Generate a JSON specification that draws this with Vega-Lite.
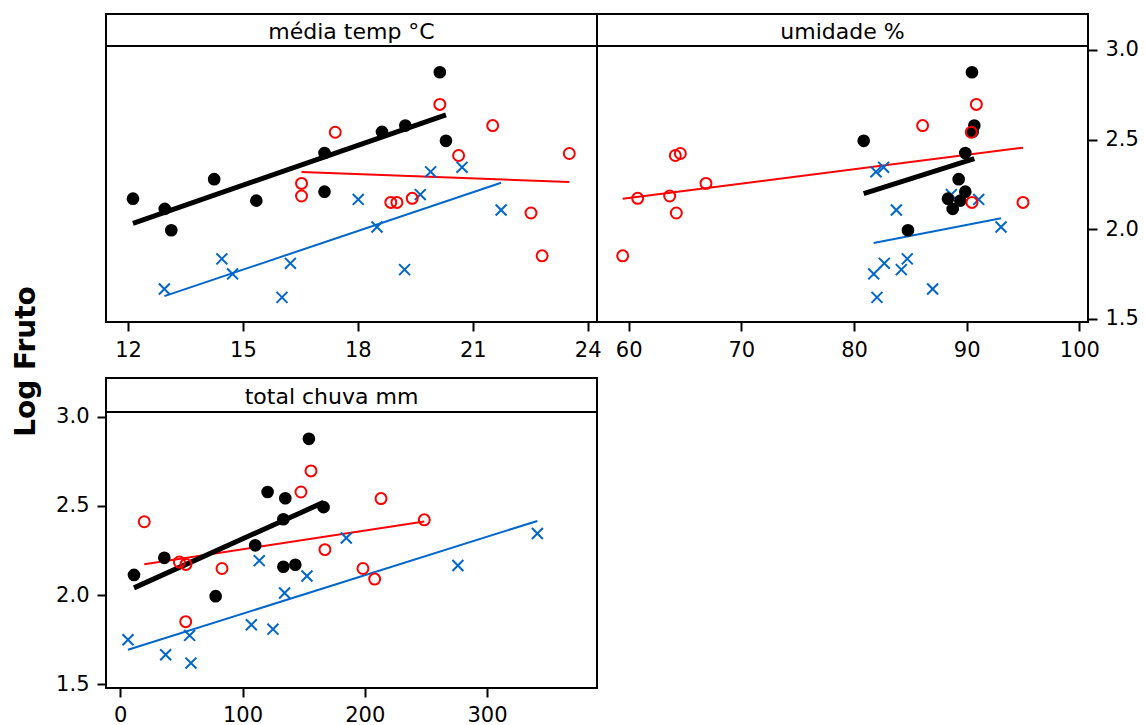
{
  "$schema": "https://vega.github.io/schema/vega-lite/v6.json",
  "background": "white",
  "padding": {"left": 10, "top": 13, "right": 2, "bottom": 0},
  "config": {
    "font": "DejaVu Sans",
    "view": {"stroke": "black", "strokeWidth": 2},
    "axis": {"grid": false, "domain": false, "tickColor": "black", "tickWidth": 2, "tickSize": 9, "labelColor": "black", "labelFont": "DejaVu Sans", "labelFontSize": 21, "labelFlush": false, "labelOverlap": false}
  },
  "datasets": {
    "pts": [
      {"g": "A", "temp": 12.13, "umid": 88.34, "chuva": 143.2, "log": 2.170},
      {"g": "A", "temp": 12.96, "umid": 88.76, "chuva": 11.2, "log": 2.113},
      {"g": "A", "temp": 13.13, "umid": 84.79, "chuva": 78.0, "log": 1.994},
      {"g": "A", "temp": 14.25, "umid": 89.29, "chuva": 110.4, "log": 2.279},
      {"g": "A", "temp": 15.35, "umid": 89.44, "chuva": 133.4, "log": 2.159},
      {"g": "A", "temp": 17.13, "umid": 89.88, "chuva": 133.4, "log": 2.425},
      {"g": "A", "temp": 17.13, "umid": 89.88, "chuva": 36.0, "log": 2.209},
      {"g": "A", "temp": 18.63, "umid": 90.53, "chuva": 135.0, "log": 2.543},
      {"g": "A", "temp": 19.24, "umid": 90.68, "chuva": 120.5, "log": 2.578},
      {"g": "A", "temp": 20.14, "umid": 90.47, "chuva": 154.3, "log": 2.876},
      {"g": "A", "temp": 20.30, "umid": 80.86, "chuva": 166.3, "log": 2.493},
      {"g": "B", "temp": 20.14, "umid": 90.86, "chuva": 156.0, "log": 2.696},
      {"g": "B", "temp": 21.52, "umid": 86.09, "chuva": 147.8, "log": 2.578},
      {"g": "B", "temp": 17.41, "umid": 90.41, "chuva": 213.3, "log": 2.541},
      {"g": "B", "temp": 23.52, "umid": 64.59, "chuva": 248.7, "log": 2.422},
      {"g": "B", "temp": 20.63, "umid": 64.14, "chuva": 19.6, "log": 2.411},
      {"g": "B", "temp": 16.53, "umid": 66.86, "chuva": 167.4, "log": 2.255},
      {"g": "B", "temp": 16.53, "umid": 63.64, "chuva": 48.3, "log": 2.185},
      {"g": "B", "temp": 19.42, "umid": 60.80, "chuva": 53.7, "log": 2.172},
      {"g": "B", "temp": 18.86, "umid": 90.47, "chuva": 83.2, "log": 2.149},
      {"g": "B", "temp": 19.02, "umid": 95.0, "chuva": 198.5, "log": 2.149},
      {"g": "B", "temp": 22.52, "umid": 64.23, "chuva": 208.1, "log": 2.090},
      {"g": "B", "temp": 22.81, "umid": 59.47, "chuva": 53.5, "log": 1.851},
      {"g": "C", "temp": 12.95, "umid": 86.98, "chuva": 37.1, "log": 1.666},
      {"g": "C", "temp": 14.45, "umid": 84.73, "chuva": 107.2, "log": 1.834},
      {"g": "C", "temp": 14.73, "umid": 81.75, "chuva": 6.3, "log": 1.750},
      {"g": "C", "temp": 16.02, "umid": 82.04, "chuva": 57.8, "log": 1.619},
      {"g": "C", "temp": 16.24, "umid": 82.69, "chuva": 124.9, "log": 1.809},
      {"g": "C", "temp": 18.01, "umid": 91.07, "chuva": 276.2, "log": 2.166},
      {"g": "C", "temp": 18.50, "umid": 93.05, "chuva": 134.4, "log": 2.012},
      {"g": "C", "temp": 19.22, "umid": 84.20, "chuva": 56.7, "log": 1.774},
      {"g": "C", "temp": 19.63, "umid": 88.64, "chuva": 113.7, "log": 2.193},
      {"g": "C", "temp": 19.90, "umid": 81.95, "chuva": 184.9, "log": 2.320},
      {"g": "C", "temp": 20.72, "umid": 82.63, "chuva": 341.2, "log": 2.345},
      {"g": "C", "temp": 21.74, "umid": 83.76, "chuva": 152.7, "log": 2.107}
    ]
  },
  "concat": [
    {"width": 491, "height": 32, "view": {"stroke": "black", "strokeWidth": 2}, "data": {"values": [{"t": "média temp °C"}]}, "mark": {"type": "text", "font": "DejaVu Sans", "fontSize": 22, "color": "black", "dy": 2}, "encoding": {"text": {"field": "t"}}},
    {"width": 491, "height": 32, "view": {"stroke": "black", "strokeWidth": 2}, "data": {"values": [{"t": "umidade %"}]}, "mark": {"type": "text", "font": "DejaVu Sans", "fontSize": 22, "color": "black", "dy": 2}, "encoding": {"text": {"field": "t"}}},
    {
      "width": 491, "height": 276,
      "data": {"name": "pts"},
      "encoding": {
        "x": {"field": "temp", "type": "quantitative", "scale": {"domain": [11.426, 24.243], "nice": false, "zero": false}, "axis": {"values": [12, 15, 18, 21, 24], "title": null, "labelPadding": 8}},
        "y": {"field": "log", "type": "quantitative", "scale": {"domain": [1.4816, 3.0223], "nice": false, "zero": false}, "axis": null}
      },
      "layer": [
        {"transform": [{"filter": "datum.g == 'C'"}, {"regression": "log", "on": "temp"}], "mark": {"type": "line", "color": "#0066CC", "strokeWidth": 2}, "encoding": {}},
        {"transform": [{"filter": "datum.g == 'B'"}, {"regression": "log", "on": "temp"}], "mark": {"type": "line", "color": "#FF0000", "strokeWidth": 2}, "encoding": {}},
        {"transform": [{"filter": "datum.g == 'A'"}, {"regression": "log", "on": "temp"}], "mark": {"type": "line", "color": "black", "strokeWidth": 5}, "encoding": {}},
        {"transform": [{"filter": "datum.g == 'C'"}], "mark": {"type": "point", "shape": "M-1,-1L1,1M-1,1L1,-1", "filled": false, "color": "#0066CC", "strokeWidth": 2, "size": 120, "opacity": 1}},
        {"transform": [{"filter": "datum.g == 'A'"}], "mark": {"type": "point", "shape": "circle", "filled": true, "color": "black", "size": 160, "opacity": 1}},
        {"transform": [{"filter": "datum.g == 'B'"}], "mark": {"type": "point", "shape": "circle", "filled": false, "color": "#FF0000", "strokeWidth": 2, "size": 120, "opacity": 1}}
      ]
    },
    {
      "width": 491, "height": 276,
      "data": {"name": "pts"},
      "encoding": {
        "x": {"field": "umid", "type": "quantitative", "scale": {"domain": [57.19, 100.77], "nice": false, "zero": false}, "axis": {"values": [60, 70, 80, 90, 100], "title": null, "labelPadding": 8}},
        "y": {"field": "log", "type": "quantitative", "scale": {"domain": [1.4816, 3.0223], "nice": false, "zero": false}, "axis": {"orient": "right", "values": [1.5, 2.0, 2.5, 3.0], "format": ".1f", "title": null, "labelPadding": 8}}
      },
      "layer": [
        {"transform": [{"filter": "datum.g == 'C'"}, {"regression": "log", "on": "umid"}], "mark": {"type": "line", "color": "#0066CC", "strokeWidth": 2}, "encoding": {}},
        {"transform": [{"filter": "datum.g == 'B'"}, {"regression": "log", "on": "umid"}], "mark": {"type": "line", "color": "#FF0000", "strokeWidth": 2}, "encoding": {}},
        {"transform": [{"filter": "datum.g == 'A'"}, {"regression": "log", "on": "umid"}], "mark": {"type": "line", "color": "black", "strokeWidth": 5}, "encoding": {}},
        {"transform": [{"filter": "datum.g == 'C'"}], "mark": {"type": "point", "shape": "M-1,-1L1,1M-1,1L1,-1", "filled": false, "color": "#0066CC", "strokeWidth": 2, "size": 120, "opacity": 1}},
        {"transform": [{"filter": "datum.g == 'A'"}], "mark": {"type": "point", "shape": "circle", "filled": true, "color": "black", "size": 160, "opacity": 1}},
        {"transform": [{"filter": "datum.g == 'B'"}], "mark": {"type": "point", "shape": "circle", "filled": false, "color": "#FF0000", "strokeWidth": 2, "size": 120, "opacity": 1}}
      ]
    },
    {"width": 1, "height": 56, "view": {"stroke": null}, "data": {"values": []}, "mark": "point"},
    {"width": 1, "height": 56, "view": {"stroke": null}, "data": {"values": []}, "mark": "point"},
    {"width": 491, "height": 34, "view": {"stroke": "black", "strokeWidth": 2}, "data": {"values": [{"t": "total chuva mm"}]}, "mark": {"type": "text", "font": "DejaVu Sans", "fontSize": 22, "color": "black", "dy": 2, "dx": -20}, "encoding": {"text": {"field": "t"}}},
    {"width": 1, "height": 1, "view": {"stroke": null}, "data": {"values": []}, "mark": "point"},
    {
      "width": 491, "height": 276,
      "data": {"name": "pts"},
      "encoding": {
        "x": {"field": "chuva", "type": "quantitative", "scale": {"domain": [-11.7, 390.0], "nice": false, "zero": false}, "axis": {"values": [0, 100, 200, 300], "title": null, "labelPadding": 7}},
        "y": {"field": "log", "type": "quantitative", "scale": {"domain": [1.4793, 3.0263], "nice": false, "zero": false}, "axis": {"orient": "left", "values": [1.5, 2.0, 2.5, 3.0], "format": ".1f", "labelPadding": 8, "title": "Log Fruto", "titleX": -72, "titleY": -51, "titleAngle": -90, "titleAlign": "center", "titleBaseline": "alphabetic", "titleFont": "DejaVu Sans", "titleFontSize": 28, "titleFontWeight": "bold", "titleColor": "black"}}
      },
      "layer": [
        {"transform": [{"filter": "datum.g == 'C'"}, {"regression": "log", "on": "chuva"}], "mark": {"type": "line", "color": "#0066CC", "strokeWidth": 2}, "encoding": {}},
        {"transform": [{"filter": "datum.g == 'B'"}, {"regression": "log", "on": "chuva"}], "mark": {"type": "line", "color": "#FF0000", "strokeWidth": 2}, "encoding": {}},
        {"transform": [{"filter": "datum.g == 'A'"}, {"regression": "log", "on": "chuva"}], "mark": {"type": "line", "color": "black", "strokeWidth": 5}, "encoding": {}},
        {"transform": [{"filter": "datum.g == 'C'"}], "mark": {"type": "point", "shape": "M-1,-1L1,1M-1,1L1,-1", "filled": false, "color": "#0066CC", "strokeWidth": 2, "size": 120, "opacity": 1}},
        {"transform": [{"filter": "datum.g == 'A'"}], "mark": {"type": "point", "shape": "circle", "filled": true, "color": "black", "size": 160, "opacity": 1}},
        {"transform": [{"filter": "datum.g == 'B'"}], "mark": {"type": "point", "shape": "circle", "filled": false, "color": "#FF0000", "strokeWidth": 2, "size": 120, "opacity": 1}}
      ]
    }
  ],
  "columns": 2,
  "align": "each",
  "bounds": "flush",
  "spacing": 0
}
